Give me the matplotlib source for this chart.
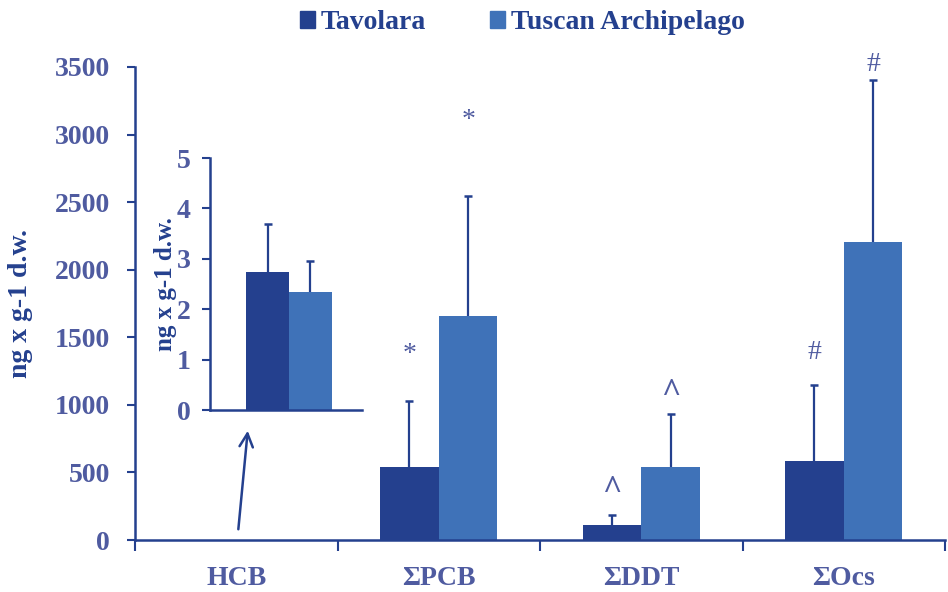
import numpy as np
import matplotlib.pyplot as plt
from matplotlib.patches import Patch

# data
categories = ['HCB', 'ΣPCB', 'ΣDDT', 'ΣOcs']
tavolara = [2.74, 540, 111, 585]
tavolara_err = [0.95, 490, 74, 562]
tuscan = [2.34, 1657, 540, 2205]
tuscan_err = [0.62, 888, 392, 1199]
marks = ['', '*', '^', '#']
mark_y_tav = [0, 1369, 370, 1391]
mark_y_tus = [0, 3101, 1095, 3515]

dark = '#24408E'
light = '#3F72B8'
txt = '#4F5BA0'
plt.rcParams['font.family'] = ['Liberation Serif', 'DejaVu Serif']
plt.rcParams['font.weight'] = 'bold'
plt.rcParams['axes.labelweight'] = 'bold'


def up_errorbar(axis, xs, ys, errs):
    # one-sided error bars, cap only at the top
    _, caps, _ = axis.errorbar(xs, ys, yerr=[np.zeros(len(ys)), errs], fmt='none',
                               ecolor=dark, elinewidth=1.6, capsize=3, capthick=1.8)
    caps[0].set_visible(False)


fig = plt.figure(figsize=(9.48, 5.92), dpi=100)
ax = fig.add_axes([135/948, 1-540/592, 810/948, 473/592])

x = np.arange(len(categories))
w = 0.29
# HCB is drawn in the inset only
ax.bar(x[1:] - w/2, tavolara[1:], w, color=dark)
ax.bar(x[1:] + w/2, tuscan[1:], w, color=light)
up_errorbar(ax, x[1:] - w/2, tavolara[1:], tavolara_err[1:])
up_errorbar(ax, x[1:] + w/2, tuscan[1:], tuscan_err[1:])

for i in range(1, 4):
    if marks[i] == '^':
        fs, fw = 24, 'bold'
    else:
        fs, fw = 20, 'normal'
    ax.text(x[i] - w/2, mark_y_tav[i], marks[i], ha='center', va='center',
            fontsize=fs, color=txt, fontweight=fw, clip_on=False)
    ax.text(x[i] + w/2, mark_y_tus[i], marks[i], ha='center', va='center',
            fontsize=fs, color=txt, fontweight=fw, clip_on=False)

ax.set_xlim(-0.5, 3.5)
ax.set_ylim(0, 3500)
ax.set_yticks(np.arange(0, 3501, 500))
ax.set_xticks(np.arange(-0.5, 3.6, 1))
ax.set_xticklabels([])
ax.set_xticks(x, minor=True)
ax.set_xticklabels(categories, minor=True)
ax.tick_params(axis='x', which='minor', length=0, pad=19, labelsize=20, labelcolor=txt)
ax.tick_params(axis='x', which='major', length=8, width=1.5, color=dark, direction='out')
ax.tick_params(axis='y', length=6, width=1.5, color=dark, labelsize=20, labelcolor=txt, pad=12)
for s in ['top', 'right']:
    ax.spines[s].set_visible(False)
for s in ['left', 'bottom']:
    ax.spines[s].set_color(dark)
    ax.spines[s].set_linewidth(1.8)
ax.set_ylabel('ng x g-1 d.w.', fontsize=20, color=dark, labelpad=16)

ax.annotate('', xy=(0.058, 829), xytext=(0.009, 59),
            arrowprops=dict(arrowstyle='->', color=dark, lw=1.8, mutation_scale=24))

# inset for HCB
ins = fig.add_axes([210/948, 1-410/592, 152/948, 252/592])
ins.bar([-0.14], [tavolara[0]], 0.28, color=dark)
ins.bar([0.14], [tuscan[0]], 0.28, color=light)
up_errorbar(ins, [-0.14], [tavolara[0]], [tavolara_err[0]])
up_errorbar(ins, [0.14], [tuscan[0]], [tuscan_err[0]])
ins.set_xlim(-0.52, 0.48)
ins.set_ylim(0, 5)
ins.set_yticks(range(6))
ins.set_xticks([])
ins.tick_params(axis='y', length=6, width=1.5, color=dark, labelsize=20, labelcolor=txt, pad=8)
for s in ['top', 'right']:
    ins.spines[s].set_visible(False)
for s in ['left', 'bottom']:
    ins.spines[s].set_color(dark)
    ins.spines[s].set_linewidth(1.8)
ins.patch.set_alpha(0)
ins.set_ylabel('ng x g-1 d.w.', fontsize=18, color=dark, labelpad=0)

handles = [Patch(color=dark), Patch(color=light)]
leg = fig.legend(handles, ['Tavolara', 'Tuscan Archipelago'], loc='upper center',
                 bbox_to_anchor=(0.551, 1.025), ncol=2, frameon=False, fontsize=20,
                 handlelength=0.54, handleheight=0.54, handletextpad=0.22, columnspacing=2.3)
for t in leg.get_texts():
    t.set_color(dark)

fig.savefig('out.png', dpi=100)
